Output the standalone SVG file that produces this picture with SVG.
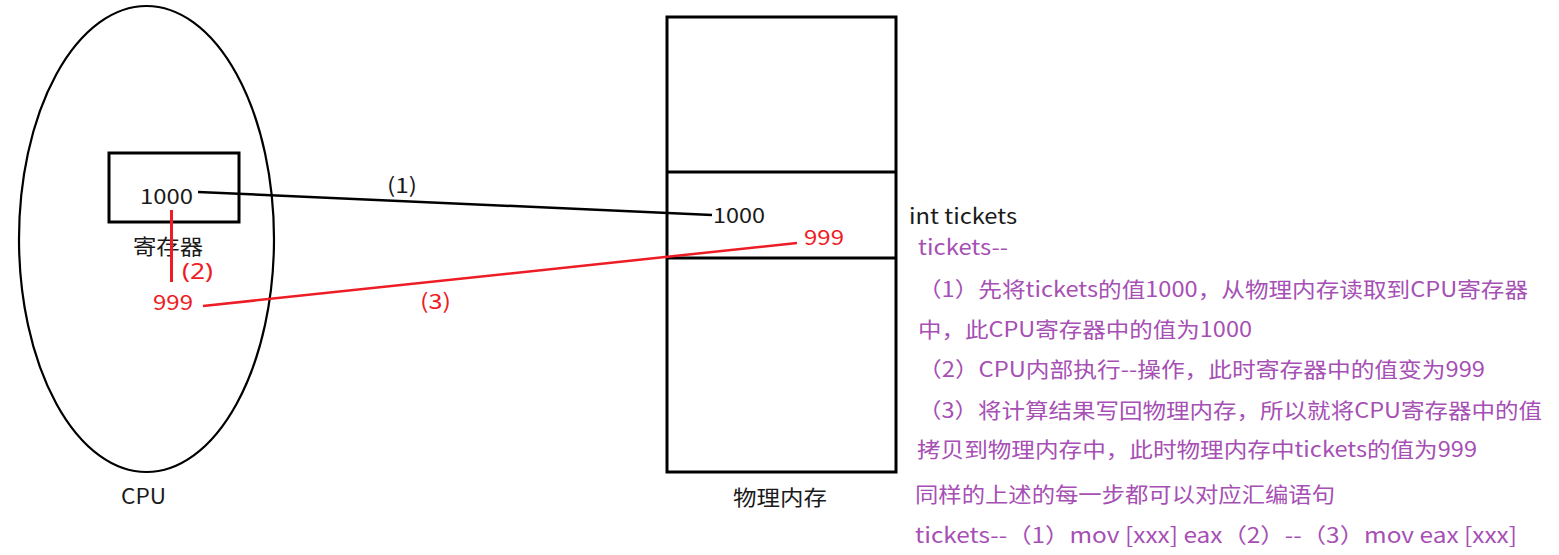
<svg xmlns="http://www.w3.org/2000/svg" width="1559" height="555" viewBox="0 0 1559 555">
<style>
text{font-family:"Microsoft YaHei","Noto Sans CJK SC","Noto Sans",sans-serif;}
.lat{font-family:"Noto Sans","Liberation Sans",sans-serif;}
.blk{fill:#1a1a1a;font-size:21px;}
.red{fill:#ee1c25;font-size:21px;}
.pur{fill:#a64fb4;font-size:21px;}
.shape{fill:none;stroke:#000;stroke-width:3;}
</style>
<rect width="1559" height="555" fill="#fff"/>
<g id="cpu">
<ellipse cx="146.5" cy="239" rx="127.5" ry="233" fill="none" stroke="#000" stroke-width="2.2"/>
<text class="blk" x="121" y="504" textLength="45" lengthAdjust="spacingAndGlyphs">CPU</text>
</g>
<g id="register">
<rect class="shape" x="109" y="153" width="130" height="69"/>
<text class="blk" x="140" y="204" font-size="23" textLength="53" lengthAdjust="spacingAndGlyphs">1000</text>
<text class="blk" x="133" y="254" font-size="22" textLength="70" lengthAdjust="spacingAndGlyphs">寄存器</text>
<text class="red" x="153" y="310" font-size="22" textLength="40" lengthAdjust="spacingAndGlyphs">999</text>
</g>
<g id="memory">
<rect class="shape" x="667" y="17" width="229" height="455"/>
<line class="shape" x1="667" y1="172" x2="896" y2="172"/>
<line class="shape" x1="667" y1="258" x2="896" y2="258"/>
<text class="blk" x="713" y="223" textLength="52" lengthAdjust="spacingAndGlyphs">1000</text>
<text class="red" x="804" y="245" textLength="40" lengthAdjust="spacingAndGlyphs">999</text>
<text class="blk" x="733" y="505" font-size="23" textLength="94" lengthAdjust="spacingAndGlyphs">物理内存</text>
</g>
<g id="connectors">
<line x1="198" y1="192" x2="712" y2="215" stroke="#000" stroke-width="2.5"/>
<line x1="203" y1="306" x2="797" y2="243" stroke="#ee1c25" stroke-width="2.5"/>
<line x1="171.5" y1="210" x2="171.5" y2="282" stroke="#ee1c25" stroke-width="3"/>
<text class="blk" x="387" y="193" textLength="30" lengthAdjust="spacingAndGlyphs">(1)</text>
<text class="red lat" x="182" y="279" font-size="20" textLength="31" lengthAdjust="spacingAndGlyphs">(2)</text>
<text class="red" x="420" y="309" textLength="31" lengthAdjust="spacingAndGlyphs">(3)</text>
</g>
<g id="notes">
<text class="blk" x="909" y="224" textLength="108" lengthAdjust="spacingAndGlyphs">int tickets</text>
<text class="pur" x="918" y="255" textLength="90" lengthAdjust="spacingAndGlyphs">tickets--</text>
<text class="pur" x="918" y="297" textLength="610" lengthAdjust="spacingAndGlyphs">（1）先将tickets的值1000，从物理内存读取到CPU寄存器</text>
<text class="pur" x="918" y="337" textLength="334" lengthAdjust="spacingAndGlyphs">中，此CPU寄存器中的值为1000</text>
<text class="pur" x="918" y="377" textLength="567" lengthAdjust="spacingAndGlyphs">（2）CPU内部执行--操作，此时寄存器中的值变为999</text>
<text class="pur" x="918" y="418" textLength="624" lengthAdjust="spacingAndGlyphs">（3）将计算结果写回物理内存，所以就将CPU寄存器中的值</text>
<text class="pur" x="917" y="457" textLength="560" lengthAdjust="spacingAndGlyphs">拷贝到物理内存中，此时物理内存中tickets的值为999</text>
<text class="pur" x="915" y="502" textLength="420" lengthAdjust="spacingAndGlyphs">同样的上述的每一步都可以对应汇编语句</text>
<text class="pur" x="915" y="543" textLength="602" lengthAdjust="spacingAndGlyphs">tickets--（1）mov [xxx] eax（2）--（3）mov eax [xxx]</text>
</g>
</svg>
